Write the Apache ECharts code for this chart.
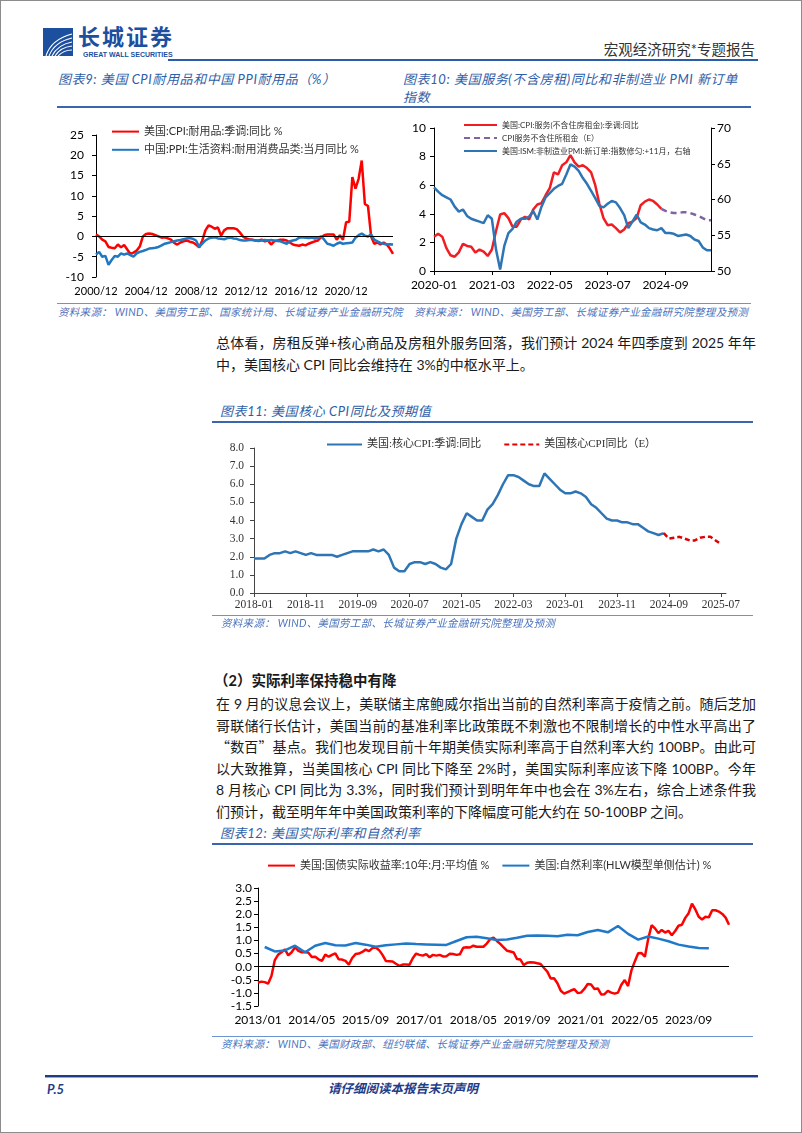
<!DOCTYPE html>
<html><head><meta charset="utf-8">
<script src="https://cdn.jsdelivr.net/npm/echarts@6/dist/echarts.min.js"></script>
<style>
html,body{margin:0;padding:0;background:#fff;}
#page{position:relative;width:802px;height:1133px;box-sizing:border-box;border:1px solid #8c8c8c;overflow:hidden;font-family:Lato,"Noto Sans CJK SC",sans-serif;}
.abs{position:absolute;white-space:nowrap;}
.title{color:#2f5ea8;font-style:italic;font-size:13px;letter-spacing:0.6px;line-height:18px;}
.src{color:#4a72bd;font-style:italic;font-size:10.5px;line-height:14px;letter-spacing:0.3px;}
.tline{position:absolute;height:1.5px;background:#3a66b0;}
.sline{position:absolute;height:1px;background:#6d93d2;}
.body{font-size:14px;color:#1a1a1a;line-height:21.5px;}
.jl{display:block;width:540px;text-align:justify;text-align-last:justify;white-space:normal;}
.ll{display:block;width:540px;text-align:left;}
.cjk{font-family:"Noto Sans CJK SC",sans-serif;}
.chart{position:absolute;}
</style></head>
<body>
<div id="page">
  <!-- header -->
  <svg class="abs" style="left:42px;top:27px" width="30" height="28" viewBox="0 0 30 28">
    <rect width="30" height="28" fill="#1d4f9f"/>
    <g fill="none" stroke="#fff" stroke-width="1.1">
      <path d="M3 28 C6 18 14 10 29 6"/>
      <path d="M6 28 C9 20 16 13 29 10"/>
      <path d="M9 28 C12 22 18 16 29 14"/>
      <path d="M12 28 C15 23 20 19 29 18"/>
      <path d="M15 28 C18 25 22 22 29 22"/>
    </g>
  </svg>
  <div class="abs" style="left:77px;top:23px;font-size:22px;font-weight:bold;color:#1d4f9f;letter-spacing:2px;line-height:26px;">长城证券</div>
  <div class="abs" style="left:82px;top:49px;font-size:7px;font-weight:bold;color:#1d4f9f;line-height:9px;font-family:'Liberation Sans',sans-serif;">GREAT WALL SECURITIES</div>
  <div class="abs" style="right:46px;top:39px;font-size:14.5px;color:#333;line-height:20px;">宏观经济研究*专题报告</div>
  <div class="abs" style="left:167px;top:58px;width:590px;height:2px;background:#2a5caa;"></div>

  <!-- chart 9 / 10 titles -->
  <div class="abs title" style="left:57px;top:69px;">图表9: 美国 CPI耐用品和中国 PPI耐用品（%）</div>
  <div class="abs title" style="left:402px;top:69px;">图表10: 美国服务(不含房租)同比和非制造业 PMI 新订单</div>
  <div class="abs title" style="left:402px;top:87px;">指数</div>
  <div class="tline" style="left:56px;top:105px;width:694px;"></div>

  <div id="c9" class="chart" style="left:55px;top:110px;width:345px;height:190px;"></div>
  <div id="c10" class="chart" style="left:400px;top:110px;width:402px;height:190px;"></div>

  <div class="sline" style="left:56px;top:302px;width:694px;"></div>
  <div class="abs src" style="left:57px;top:304px;">资料来源： WIND、美国劳工部、国家统计局、长城证券产业金融研究院</div>
  <div class="abs src" style="left:413px;top:304px;">资料来源： WIND、美国劳工部、长城证券产业金融研究院整理及预测</div>

  <!-- paragraph 1 -->
  <div class="abs body" style="left:215px;top:331px;">
    <span class="jl">总体看，房租反弹+核心商品及房租外服务回落，我们预计 2024 年四季度到 2025 年年</span>
    <span class="ll">中，美国核心 CPI 同比会维持在 3%的中枢水平上。</span>
  </div>

  <!-- chart 11 -->
  <div class="abs title" style="left:219px;top:401px;">图表11: 美国核心 CPI同比及预期值</div>
  <div class="tline" style="left:211px;top:420px;width:541px;"></div>
  <div id="c11" class="chart" style="left:200px;top:425px;width:560px;height:190px;"></div>
  <div class="sline" style="left:211px;top:614px;width:541px;"></div>
  <div class="abs src" style="left:220px;top:615px;">资料来源： WIND、美国劳工部、长城证券产业金融研究院整理及预测</div>

  <!-- section 2 -->
  <div class="abs body" style="left:213px;top:669px;font-weight:bold;font-size:14.5px;">（2）实际利率保持稳中有降</div>
  <div class="abs body" style="left:215px;top:692px;">
    <span class="jl">在 9 月的议息会议上，美联储主席鲍威尔指出当前的自然利率高于疫情之前。随后芝加</span>
    <span class="jl">哥联储行长估计，美国当前的基准利率比政策既不刺激也不限制增长的中性水平高出了</span>
    <span class="jl"><span class="cjk">“数百”</span>基点。我们也发现目前十年期美债实际利率高于自然利率大约 100BP。由此可</span>
    <span class="jl">以大致推算，当美国核心 CPI 同比下降至 2%时，美国实际利率应该下降 100BP。今年</span>
    <span class="jl">8 月核心 CPI 同比为 3.3%，同时我们预计到明年年中也会在 3%左右，综合上述条件我</span>
    <span class="ll">们预计，截至明年年中美国政策利率的下降幅度可能大约在 50-100BP 之间。</span>
  </div>

  <!-- chart 12 -->
  <div class="abs title" style="left:219px;top:823px;">图表12: 美国实际利率和自然利率</div>
  <div class="tline" style="left:211px;top:842px;width:541px;"></div>
  <div id="c12" class="chart" style="left:200px;top:845px;width:560px;height:190px;"></div>
  <div class="sline" style="left:211px;top:1035px;width:541px;"></div>
  <div class="abs src" style="left:220px;top:1036px;">资料来源： WIND、美国财政部、纽约联储、长城证券产业金融研究院整理及预测</div>

  <!-- footer -->
  <div class="abs" style="left:44px;top:1074px;width:713px;height:2px;background:#1f3c88;"></div>
  <div class="abs" style="left:44px;top:1076px;width:713px;height:1px;background:#8fa9d8;"></div>
  <div class="abs" style="left:46px;top:1080px;font-size:13px;font-weight:bold;font-style:italic;color:#1f3c88;line-height:16px;">P.5</div>
  <div class="abs" style="left:327px;top:1080px;font-size:12.5px;font-weight:bold;font-style:italic;color:#1f3c88;line-height:16px;">请仔细阅读本报告末页声明</div>
</div>

<script>
// ---------- helpers ----------
function months(y0, m0, y1, m1, step, sep) {
  const out = []; let y = y0, m = m0;
  while (y < y1 || (y === y1 && m <= m1)) {
    out.push(y + sep + String(m).padStart(2, '0'));
    m += step; while (m > 12) { m -= 12; y++; }
  }
  return out;
}
const FONT = 'Lato, "Noto Sans CJK SC", sans-serif';
const SERIF = '"Liberation Serif", "Noto Sans CJK SC", serif';

// ---------- chart 9 data (quarterly, 2000/12 - 2024/09) ----------
const cats9 = months(2000, 12, 2024, 9, 3, '/');
const usDurableCPI = [
  0.5, 0.0, -0.8, -1.2, -2.6,
  -2.8, -2.9, -2.0, -2.7, -2.1, -3.2, -4.3, -4.0,
  -3.5, -2.5, 0.0, 0.6,
  0.7, 0.6, 0.3, 0.0, -0.3, -0.2, -0.5,
  -0.8, -1.6, -2.0, -1.5, -1.2,
  -1.0, -1.3, -1.5, -2.0,
  -2.7, -1.0,
  1.5, 2.7, 2.4, 1.9, 2.2, 0.2, 1.5, 2.0, 2.0, 2.0, 1.8, 1.0, 0.0,
  -0.5, -0.7, -0.8, -1.0, -1.0, -0.8, -1.2, -1.0, -2.0, -1.2, -1.0, -0.8,
  -0.8, -1.0, -1.5, -2.0, -2.2, -2.3, -2.0, -2.2, -1.8, -1.5, -1.2, -1.0,
  -0.2, 0.3, 0.5, 0.5, 0.5, -0.8, 0.3, -0.8,
  3.5, 3.6, 14.6, 11.8, 14.2, 18.7, 8.0, 7.5, 0.0, -1.8, -1.5, -2.0, -1.5, -2.0, -3.0, -4.3
];
const cnDurablePPI = [
  -4.5, -3.8, -5.0, -4.8, -7.0, -5.8, -4.8, -5.0, -4.2, -4.5,
  -4.2, -4.6, -5.0, -4.2, -3.8, -3.6, -3.3, -3.0, -2.9, -2.8,
  -2.6, -2.2, -1.8, -1.6, -1.4, -1.2, -1.0, -0.9, -0.7, -0.5,
  -0.4, -0.6, -1.0, -2.6, -1.8, -1.0, -0.5, -0.3, -0.2, -0.5,
  -0.6, -0.7, -0.4, -0.3, -0.5, -0.6, -0.9, -1.0, -1.0, -0.9,
  -0.9, -1.0, -1.1, -1.0, -0.9, -1.0, -0.9, -1.0, -1.1, -1.2,
  -1.5, -1.8, -1.2, -1.0, -0.8, -0.3, -0.2, -0.3, -0.4, -0.3,
  -0.5, -0.3, 0.0, -0.8, -1.8, -2.0, -2.3, -1.8, -1.5, -1.8,
  -1.7, -1.6, -1.5, -0.3, 0.3, 0.7, 0.2, 0.0, 0.5, -0.8,
  -1.2, -1.6, -1.8, -2.0, -1.9, -2.0
];
const ticks9 = { min: -10, max: 25, interval: 5 };

// ---------- chart 10 data (monthly, 2020-01 - 2025-08) ----------
const cats10 = months(2020, 1, 2025, 8, 1, '-');
const svcExRent = [
  2.4, 2.6, 2.4, 1.6, 1.1, 1.0, 1.3, 1.9, 1.75, 1.7, 1.3, 1.5,
  1.35, 1.05, 1.5, 2.8, 3.95, 4.05, 3.7, 3.1, 3.1, 3.6, 3.8, 3.6,
  4.3, 4.65, 4.75, 5.3, 5.8, 6.9, 6.75, 7.4, 7.6, 8.1, 7.6, 7.3,
  7.4, 7.2, 6.9, 6.0, 4.7, 3.7, 3.2, 3.25, 3.0, 2.7, 2.9, 3.35,
  3.45, 3.7, 4.6, 4.85, 5.0, 4.9, 4.65, 4.35
];
const svcExRentE = [4.35, 4.2, 4.1, 4.05, 4.05, 4.1, 4.1, 4.05, 3.95, 3.85, 3.7, 3.55, 3.55];
const svcExRentEStart = 55;
const pmiNewOrders = [
  61.7, 61.1, 60.6, 60.3, 60.0, 59.0, 58.3, 58.6, 57.7, 57.3, 57.1, 56.9,
  56.7, 57.8, 57.3, 53.0, 50.2, 53.5, 55.3, 55.9, 56.9, 57.3, 57.3, 57.6,
  58.4, 57.2, 59.0, 60.3, 60.9, 61.5, 61.9, 62.2, 63.5, 64.9, 64.6, 64.0,
  63.0, 62.2, 61.2, 60.2, 59.1, 58.9, 59.4, 59.8, 59.6, 58.8, 57.8, 56.0,
  56.9, 57.9, 56.8, 56.5, 56.0, 55.8, 55.7, 56.0, 55.3, 55.3, 55.2, 54.9,
  55.0, 55.1, 54.9, 54.4, 54.2, 53.3, 52.9, 52.9
];

// ---------- chart 11 data (monthly, 2018-01 - 2025-08) ----------
const cats11 = months(2018, 1, 2025, 8, 1, '-');
const coreCPI = [
  1.9, 1.9, 1.9, 2.1, 2.2, 2.2, 2.3, 2.2, 2.3, 2.2, 2.1, 2.2,
  2.1, 2.1, 2.1, 2.1, 2.0, 2.1, 2.2, 2.3, 2.3, 2.3, 2.3, 2.4,
  2.3, 2.4, 2.1, 1.4, 1.2, 1.2, 1.6, 1.7, 1.7, 1.6, 1.7, 1.6,
  1.4, 1.3, 1.6, 3.0, 3.8, 4.4, 4.2, 4.0, 4.0, 4.6, 4.9, 5.4,
  6.0, 6.5, 6.5, 6.4, 6.2, 6.0, 5.9, 5.9, 6.6, 6.3, 6.0, 5.7,
  5.5, 5.5, 5.6, 5.5, 5.3, 4.9, 4.7, 4.4, 4.1, 4.0, 4.0, 3.9,
  3.9, 3.8, 3.8, 3.6, 3.4, 3.3, 3.2, 3.3
];
const coreCPIE = [3.3, 3.0, 3.05, 3.1, 3.0, 2.9, 2.9, 3.05, 3.1, 3.1, 2.9, 2.7];
const coreCPIEStart = 79;

// ---------- chart 12 data (monthly, 2013/01 - 2024/09) ----------
const cats12 = months(2013, 1, 2024, 9, 1, '/');
const tipsReal10y = [
  -0.61, -0.57, -0.59, -0.65, -0.36, 0.25, 0.46, 0.55, 0.66, 0.43, 0.55, 0.74,
  0.60, 0.55, 0.56, 0.53, 0.37, 0.38, 0.28, 0.22, 0.46, 0.38, 0.45, 0.51,
  0.28, 0.27, 0.22, 0.08, 0.33, 0.48, 0.50, 0.56, 0.65, 0.59, 0.71, 0.73,
  0.63, 0.45, 0.22, 0.21, 0.20, 0.11, 0.03, 0.08, 0.08, 0.07, 0.32, 0.50,
  0.45, 0.42, 0.48, 0.36, 0.45, 0.42, 0.45, 0.39, 0.40, 0.49, 0.48, 0.45,
  0.47, 0.72, 0.74, 0.73, 0.80, 0.76, 0.76, 0.76, 0.88, 1.05, 1.11, 0.98,
  0.87, 0.74, 0.61, 0.58, 0.54, 0.29, 0.27, 0.06, 0.15, 0.17, 0.16, 0.13,
  0.10, -0.05, -0.19, -0.45, -0.44, -0.63, -0.92, -1.03, -0.97, -0.91, -0.86, -1.00,
  -0.99, -0.85, -0.66, -0.68, -0.85, -0.83, -1.06, -1.05, -0.92, -0.99, -1.03, -0.99,
  -0.69, -0.51, -0.74, -0.14, 0.20, 0.51, 0.52, 0.38, 1.07, 1.58, 1.46, 1.28,
  1.40, 1.30, 1.37, 1.20, 1.36, 1.56, 1.60, 1.86, 2.04, 2.40, 2.18, 1.90,
  1.80, 1.90, 1.88, 2.15, 2.15, 2.10, 2.01, 1.87, 1.60
];
const hlwQuarters = months(2013, 3, 2024, 3, 3, '/');
const hlwNaturalRate = [
  0.75, 0.58, 0.62, 0.80, 0.55, 0.80, 0.90, 0.82, 0.81, 0.90,
  0.84, 0.76, 0.82, 0.85, 0.88, 0.86, 0.85, 0.84, 0.83, 0.98,
  1.12, 1.14, 1.08, 1.02, 1.04, 1.10, 1.18, 1.19, 1.18, 1.16,
  1.22, 1.20, 1.32, 1.40, 1.31, 1.55, 1.25, 1.03, 1.15, 1.07,
  0.97, 0.84, 0.77, 0.71, 0.70
];

// ---------- common styles ----------
const axisBlack = { show: true, lineStyle: { color: '#000', width: 1 } };
const tickBlack = { show: true, length: 4, lineStyle: { color: '#000' } };
const zeroLine = {
  silent: true, symbol: 'none', label: { show: false },
  lineStyle: { color: '#000', width: 1, type: 'solid' },
  data: [{ yAxis: 0 }]
};
const legendNoSymbol = { opacity: 0 };
function padNull(n, arr) { return new Array(n).fill(null).concat(arr); }

// ---------- chart 9 ----------
echarts.init(document.getElementById('c9')).setOption({
  animation: false,
  grid: { left: 40, right: 8, top: 24, bottom: 24 },
  legend: {
    orient: 'vertical', left: 50, top: 10, itemWidth: 27, itemHeight: 14, itemGap: 7,
    itemStyle: legendNoSymbol,
    textStyle: { fontSize: 11, color: '#333', fontFamily: FONT }
  },
  xAxis: {
    type: 'category', data: cats9, boundaryGap: false,
    axisLine: { show: false }, axisTick: { show: false },
    axisLabel: { interval: 15, fontSize: 11, color: '#000', fontFamily: FONT, margin: 9 }
  },
  yAxis: {
    type: 'value', min: ticks9.min, max: ticks9.max, interval: ticks9.interval,
    axisLine: axisBlack, axisTick: tickBlack, splitLine: { show: false },
    axisLabel: { fontSize: 12, color: '#000', fontFamily: FONT, margin: 12 }
  },
  series: [
    { name: '美国:CPI:耐用品:季调:同比 %', type: 'line', data: usDurableCPI, symbol: 'none',
      lineStyle: { color: '#ff0000', width: 2.5 }, itemStyle: { color: '#ff0000' }, markLine: zeroLine },
    { name: '中国:PPI:生活资料:耐用消费品类:当月同比 %', type: 'line', data: cnDurablePPI, symbol: 'none',
      lineStyle: { color: '#1f78c1', width: 2.5 }, itemStyle: { color: '#1f78c1' } }
  ]
});

// ---------- chart 10 ----------
echarts.init(document.getElementById('c10')).setOption({
  animation: false,
  grid: { left: 33, right: 92, top: 17, bottom: 30 },
  legend: {
    orient: 'vertical', left: 57, top: 5, itemWidth: 33, itemHeight: 8, itemGap: 5,
    itemStyle: legendNoSymbol,
    textStyle: { fontSize: 8, color: '#333', fontFamily: FONT }
  },
  xAxis: {
    type: 'category', data: cats10, boundaryGap: false,
    axisLine: axisBlack, axisTick: { show: true, length: 4, interval: 13, lineStyle: { color: '#000' } },
    axisLabel: { interval: 13, fontSize: 12, color: '#000', fontFamily: FONT, margin: 8 }
  },
  yAxis: [
    { type: 'value', min: 0, max: 10, interval: 2, position: 'left',
      axisLine: axisBlack, axisTick: tickBlack, splitLine: { show: false },
      axisLabel: { fontSize: 12, color: '#000', fontFamily: FONT, margin: 8 } },
    { type: 'value', min: 50, max: 70, interval: 5, position: 'right',
      axisLine: axisBlack, axisTick: tickBlack, splitLine: { show: false },
      axisLabel: { fontSize: 12, color: '#000', fontFamily: FONT, margin: 6 } }
  ],
  series: [
    { name: '美国:CPI:服务(不含住房租金):季调:同比', type: 'line', data: svcExRent, symbol: 'none',
      lineStyle: { color: '#f01e23', width: 2.5 }, itemStyle: { color: '#f01e23' } },
    { name: 'CPI服务不含住所租金（E）', type: 'line', data: padNull(svcExRentEStart, svcExRentE), symbol: 'none',
      lineStyle: { color: '#8064a2', width: 2.5, type: [6, 4] }, itemStyle: { color: '#8064a2' } },
    { name: '美国:ISM:非制造业PMI:新订单:指数修匀:+11月，右轴', type: 'line', yAxisIndex: 1, data: pmiNewOrders, symbol: 'none',
      lineStyle: { color: '#2e75b6', width: 2.5 }, itemStyle: { color: '#2e75b6' } }
  ]
});

// ---------- chart 11 ----------
echarts.init(document.getElementById('c11')).setOption({
  animation: false,
  grid: { left: 53, right: 35, top: 22, bottom: 23 },
  legend: {
    left: 120, top: 8, itemWidth: 35, itemHeight: 14, itemGap: 22,
    itemStyle: legendNoSymbol,
    textStyle: { fontSize: 11, color: '#333', fontFamily: SERIF }
  },
  xAxis: {
    type: 'category', data: cats11, boundaryGap: false,
    axisLine: { show: true, lineStyle: { color: '#444' } },
    axisTick: { show: true, length: 4, interval: 9, lineStyle: { color: '#444' } },
    axisLabel: { interval: 9, fontSize: 11.5, color: '#333', fontFamily: SERIF, margin: 6 }
  },
  yAxis: {
    type: 'value', min: 0, max: 8, interval: 1,
    axisLine: { show: true, lineStyle: { color: '#444' } },
    axisTick: { show: true, length: 4, lineStyle: { color: '#444' } },
    splitLine: { show: false },
    axisLabel: { fontSize: 11.5, color: '#333', fontFamily: SERIF, margin: 10, formatter: v => v.toFixed(1) }
  },
  series: [
    { name: '美国:核心CPI:季调:同比', type: 'line', data: coreCPI, symbol: 'none',
      lineStyle: { color: '#2e75b6', width: 2.5 }, itemStyle: { color: '#2e75b6' } },
    { name: '美国核心CPI同比（E）', type: 'line', data: padNull(coreCPIEStart, coreCPIE), symbol: 'none',
      lineStyle: { color: '#e00000', width: 2.5, type: [5, 3] }, itemStyle: { color: '#e00000' } }
  ]
});

// ---------- chart 12 ----------
echarts.init(document.getElementById('c12')).setOption({
  animation: false,
  grid: { left: 57, right: 32, top: 42, bottom: 30 },
  legend: {
    left: 61, top: 9, itemWidth: 27, itemHeight: 14, itemGap: 12,
    itemStyle: legendNoSymbol,
    textStyle: { fontSize: 11, color: '#333', fontFamily: FONT }
  },
  xAxis: {
    type: 'category', data: cats12, boundaryGap: false,
    axisLine: { show: false }, axisTick: { show: false },
    axisLabel: { interval: 15, fontSize: 12, color: '#000', fontFamily: FONT, margin: 8 }
  },
  yAxis: {
    type: 'value', min: -1.5, max: 3.0, interval: 0.5,
    axisLine: axisBlack, axisTick: tickBlack, splitLine: { show: false },
    axisLabel: { fontSize: 12, color: '#000', fontFamily: FONT, margin: 6, formatter: v => v.toFixed(1) }
  },
  series: [
    { name: '美国:国债实际收益率:10年:月:平均值 %', type: 'line', data: tipsReal10y, symbol: 'none',
      lineStyle: { color: '#ff0000', width: 2.5 }, itemStyle: { color: '#ff0000' }, markLine: zeroLine },
    { name: '美国:自然利率(HLW模型单侧估计) %', type: 'line', symbol: 'none', connectNulls: true,
      data: hlwQuarters.map((q, i) => [q, hlwNaturalRate[i]]),
      lineStyle: { color: '#1f78c8', width: 2.5 }, itemStyle: { color: '#1f78c8' } }
  ]
});
</script>
</body></html>
